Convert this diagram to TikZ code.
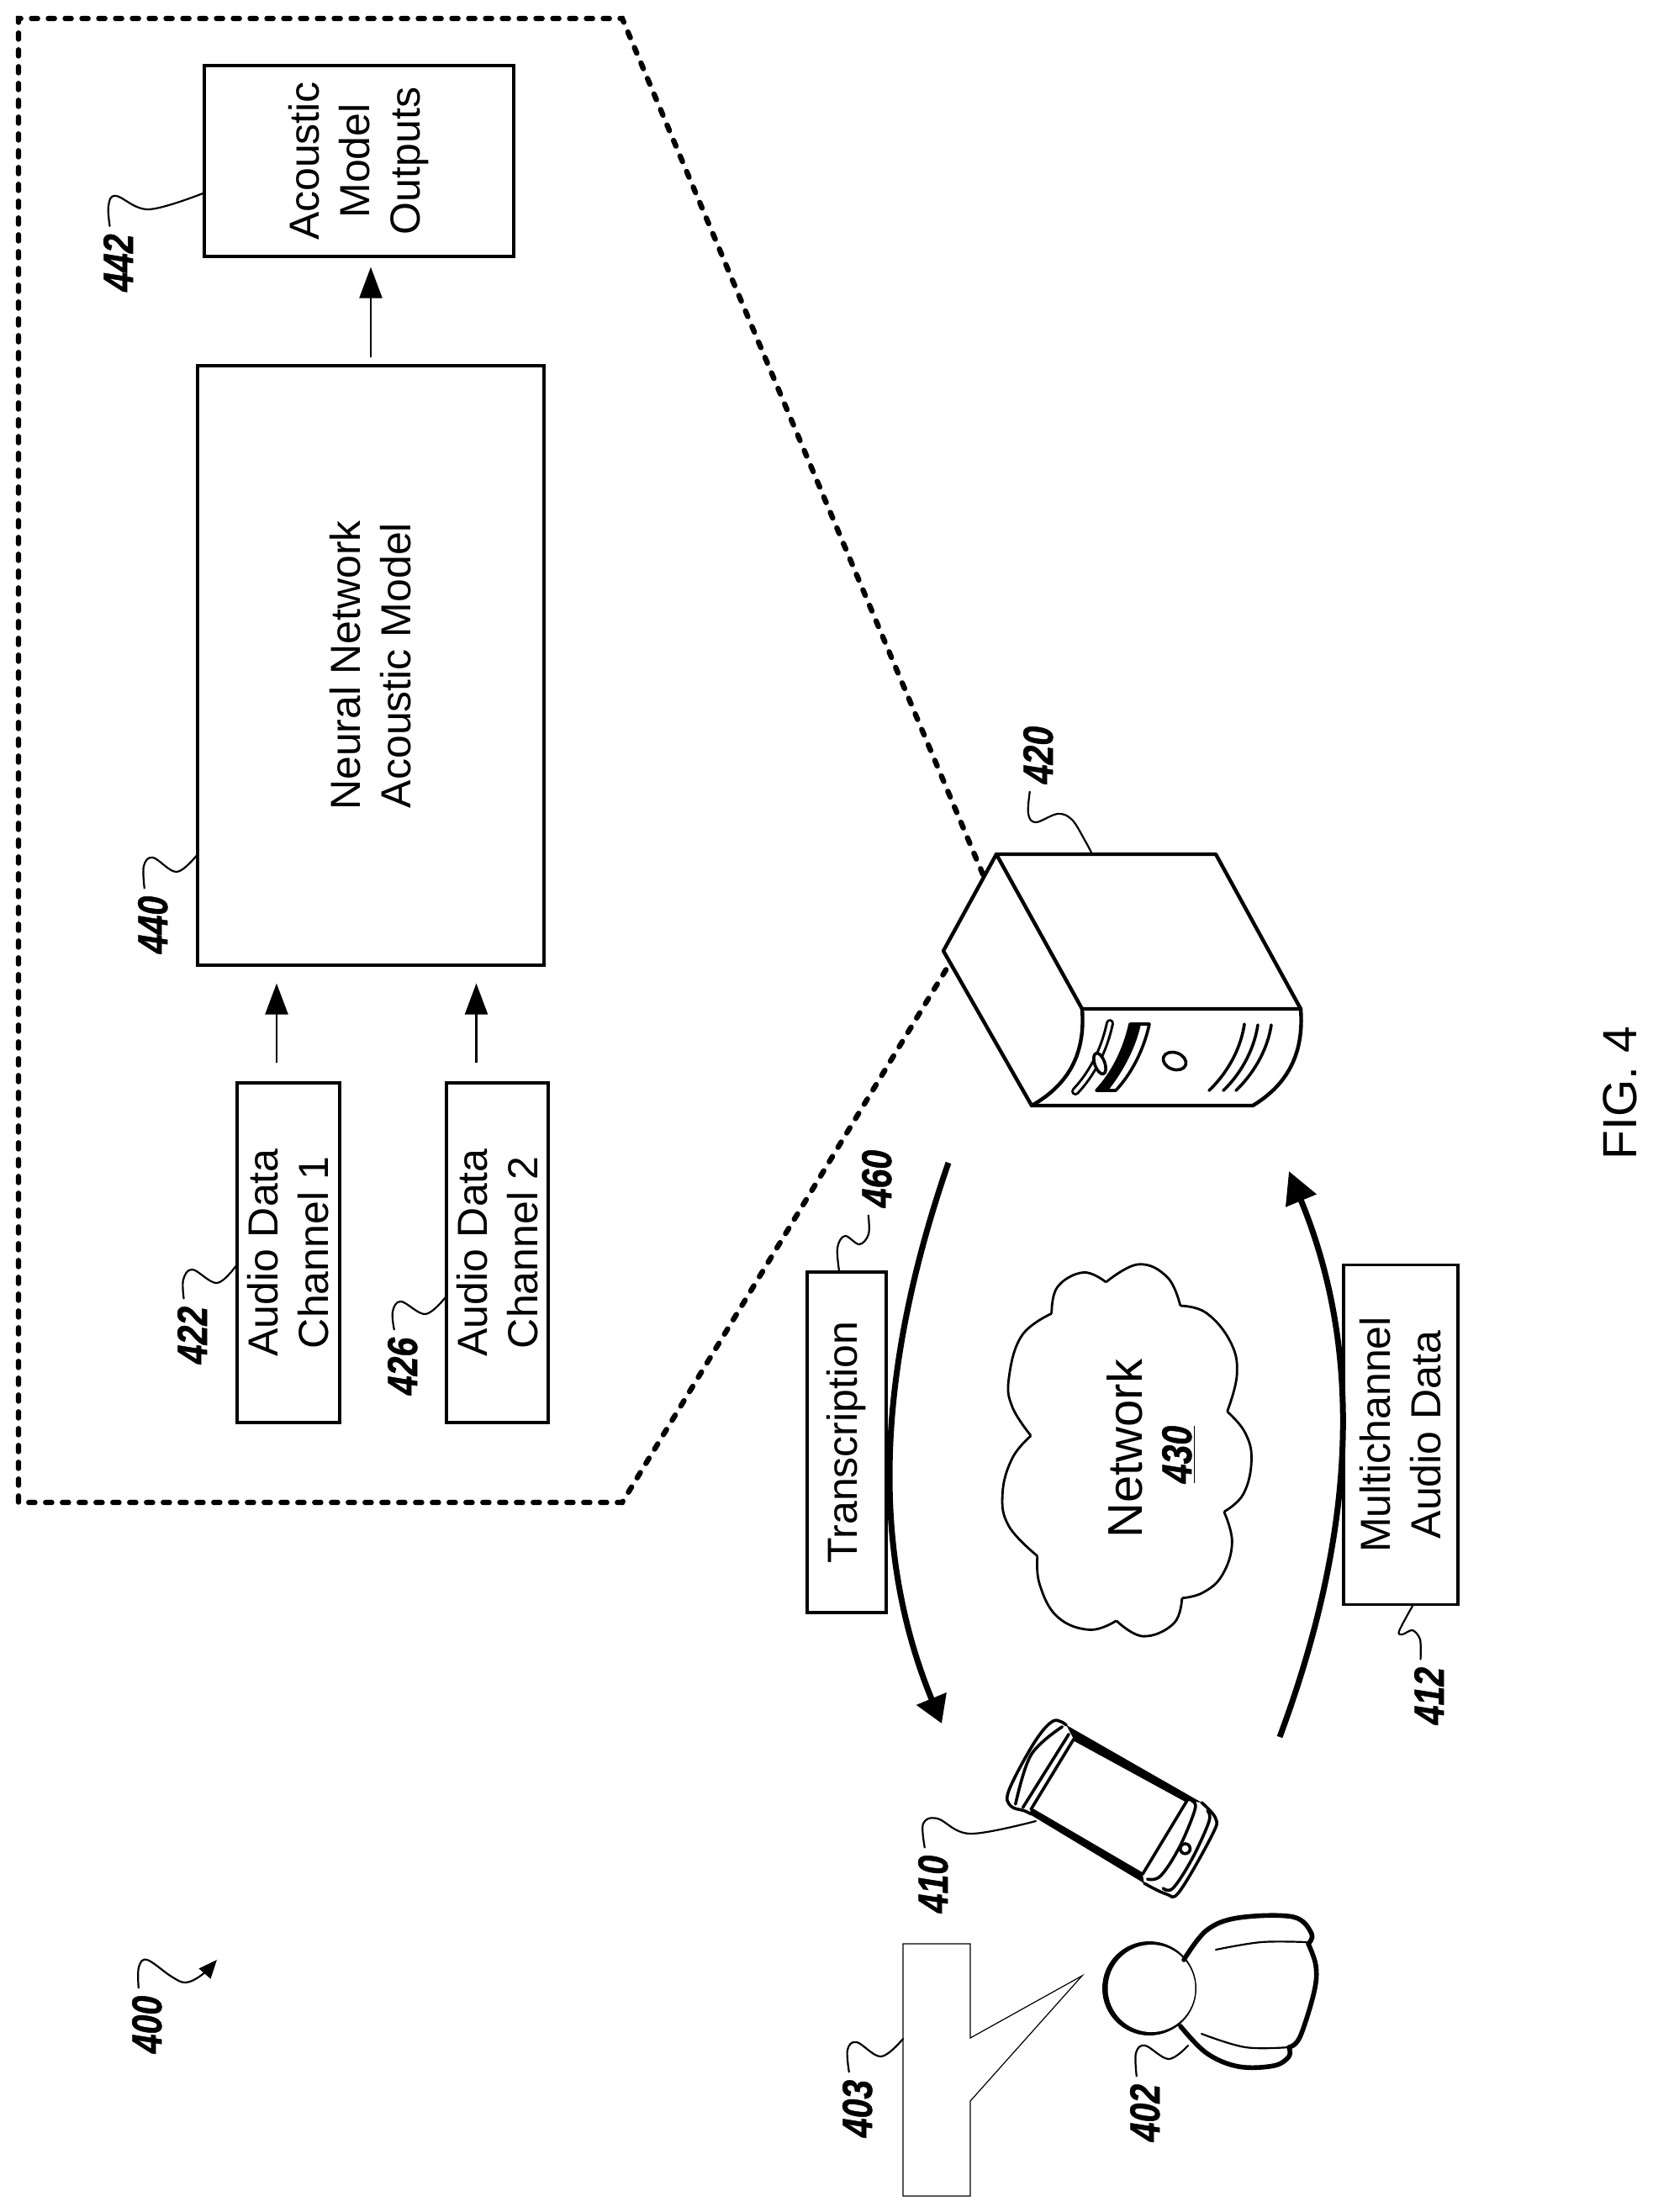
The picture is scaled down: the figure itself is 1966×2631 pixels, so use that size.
\documentclass[tikz,border=0pt]{standalone}
\usepackage{fontspec}
\usepackage{graphicx}
\setmainfont{Liberation Sans}
\newfontfamily\refnumfont{Liberation Sans}[BoldItalicFeatures={FakeBold=1.1}]
\usetikzlibrary{arrows.meta}
\newcommand{\refnum}[1]{\scalebox{.82}[1]{\refnumfont\bfseries\itshape #1}}
\tikzset{
  boxnode/.style={draw=black,line width=1.6pt,rotate=90,inner sep=0pt,align=center,fill=white,
    font=\fontsize{25}{30}\selectfont},
  refnode/.style={rotate=90,anchor=base,inner sep=0pt,font=\fontsize{25}{25}\selectfont},
  leadline/.style={line width=1.1pt,line cap=round},
  smallarrow/.style={line width=1.2pt,-{Triangle[length=18.5pt,width=13.5pt]}},
  bigarrow/.style={line width=3.5pt},
  dashline/.style={line width=3.2pt,dash pattern=on 3.6pt off 6.4pt,line cap=round},
  art/.style={line width=1.8pt,line join=round,line cap=round},
  artthick/.style={line width=2.2pt,line join=round,line cap=round},
  bodyline/.style={line width=2.8pt,line join=round,line cap=round},
}
\begin{document}
\begin{tikzpicture}[x=.5pt,y=-.5pt]
\fill[white] (0,0) rectangle (1966,2631);
\useasboundingbox (0,0) rectangle (1966,2631);

% dashed enlargement outline
\coordinate (dashA) at (1169,1040);
\coordinate (dashB) at (1129,1147);
\draw[dashline] (dashA) -- (740,22) -- (22,22) -- (22,1787) -- (740,1787) -- (dashB);

% boxes
\node[boxnode,minimum width=113.5pt,minimum height=184pt] (acoustic) at (427,191.5) {Acoustic\\Model\\Outputs};
\node[boxnode,minimum width=356.5pt,minimum height=206pt] (neural) at (441,791.5) {Neural Network\\Acoustic Model};
\node[boxnode,minimum width=202pt,minimum height=61pt] (chone) at (343,1490) {Audio Data\\Channel 1};
\node[boxnode,minimum width=202pt,minimum height=60.5pt] (chtwo) at (591.5,1490) {Audio Data\\Channel 2};
\node[boxnode,minimum width=202.5pt,minimum height=47pt] (transcr) at (1007,1715.5) {Transcription};
\node[boxnode,minimum width=202pt,minimum height=68pt] (multi) at (1666,1706.5) {Multichannel\\Audio Data};

% straight arrows
\draw[smallarrow] ([shift={(-14,-22)}]chone.east) -- ([shift={(-112,20)}]neural.west);
\draw[smallarrow] ([shift={(-25,-22)}]chtwo.east) -- ([shift={(125.5,20)}]neural.west);
\draw[smallarrow] ([shift={(0,-8)}]neural.east) -- ([shift={(14,11)}]acoustic.west);

% reference numerals
\node[refnode] (lfh) at (158,312.5) {\refnum{442}};
\node[refnode] (lff) at (199,1100) {\refnum{440}};
\node[refnode] (ltt) at (246,1588) {\refnum{422}};
\node[refnode] (lts) at (496,1625) {\refnum{426}};
\node[refnode] (lsz) at (1060,1402) {\refnum{460}};
\node[refnode] (lot) at (1717,2017) {\refnum{412}};
\node[refnode] (ltz) at (1252,898) {\refnum{420}};
\node[refnode] (loz) at (1127,2241) {\refnum{410}};
\node[refnode] (ltw) at (1379,2513) {\refnum{402}};
\node[refnode] (lth) at (1037,2508) {\refnum{403}};
\node[refnode] (lzz) at (192,2408) {\refnum{400}};

% leaders
\draw[leadline] plot[smooth,tension=.6] coordinates {([shift={(0,38.5)}]acoustic.north) (177,249) (138,233) (129,245) ([shift={(-10,-9)}]lfh.east)};
\draw[leadline] plot[smooth,tension=.6] coordinates {([shift={(0,226.5)}]neural.north) (210,1037) (182,1020) (171,1030) ([shift={(-10,-9)}]lff.east)};
\draw[leadline] plot[smooth,tension=.6] coordinates {([shift={(0,16)}]chone.north) (258,1526) (229,1510) (218,1522) ([shift={(-10,-9)}]ltt.east)};
\draw[leadline] plot[smooth,tension=.6] coordinates {([shift={(0,53.5)}]chtwo.north) (506,1563) (477,1548) (467,1560) ([shift={(-10,-9)}]lts.east)};
\draw[leadline] plot[smooth,tension=.6] coordinates {([shift={(-9,0)}]transcr.east) (996,1484) (1005,1470) (1022,1480) (1033,1468) ([shift={(-10,9)}]lsz.west)};
\draw[leadline] plot[smooth,tension=.5] coordinates {([shift={(14,0)}]multi.west) (1664,1940) (1668,1944) (1680,1939) (1689,1950) ([shift={(-10,-9)}]lot.east)};

% network cloud
\begin{scope}[shift={(1150,1450)},x=.1923pt,y=-.1923pt]
\draw[line width=1.4pt,line join=round]
  plot[smooth,tension=.7] coordinates {(430,195) (530,140) (620,180) (660,268)}
  plot[smooth,tension=.7] coordinates {(660,268) (740,290) (815,380) (835,480) (805,595)}
  plot[smooth,tension=.7] coordinates {(805,595) (860,660) (880,745) (855,850) (795,905)}
  plot[smooth,tension=.7] coordinates {(795,905) (820,1000) (790,1100) (730,1155) (665,1172)}
  plot[smooth,tension=.7] coordinates {(665,1172) (640,1250) (545,1290) (462,1242)}
  plot[smooth,tension=.7] coordinates {(462,1242) (380,1270) (280,1230) (225,1130) (218,1042)}
  plot[smooth,tension=.7] coordinates {(218,1042) (130,950) (110,850) (140,740) (198,670)}
  plot[smooth,tension=.7] coordinates {(198,670) (140,580) (130,490) (170,360) (262,292)}
  plot[smooth,tension=.7] coordinates {(262,292) (280,210) (360,165) (430,195)};
\end{scope}
\node[refnode,font=\fontsize{29}{29}\selectfont] (netname) at (1358,1723) {Network};
\node[refnode] (netnum) at (1417,1730) {\refnum{\underline{430}}};

% curved arrows
\coordinate (tailL) at (1128,1383);
\coordinate (tipL) at (1120,2050);
\coordinate (tailR) at (1522,2066);
\coordinate (tipR) at (1533,1393);
\draw[bigarrow,-{Triangle[length=16pt,width=18.5pt]}] (tailL) .. controls (1042,1632) and (1035,1844) .. (tipL);
\draw[bigarrow,-{Triangle[length=19pt,width=19pt]}] (tailR) .. controls (1614,1819) and (1621,1606) .. (tipR);

% server
\draw[artthick,fill=white] (1122,1131) -- (1185,1016) -- (1446,1016) -- (1547,1200)
   .. controls (1551,1251) and (1533,1289) .. (1490,1315) -- (1227,1315) -- cycle;
\draw[artthick] (1185,1016) -- (1287,1200) -- (1547,1200);
\draw[artthick] (1287,1200) .. controls (1291,1251) and (1273,1289) .. (1227,1315);
\draw[art] (1397,1262) ellipse [x radius=14,y radius=10,rotate=-20];
\draw[art] (1480,1218) .. controls (1475,1252) and (1456,1280) .. (1438,1297);
\draw[art] (1496,1219) .. controls (1491,1252) and (1473,1280) .. (1455,1297);
\draw[art] (1512,1219) .. controls (1507,1252) and (1488,1280) .. (1470,1297);
\draw[art] (1344,1218) -- (1367,1218) .. controls (1360,1250) and (1345,1278) .. (1327,1297) -- (1304,1297) .. controls (1322,1278) and (1337,1250) .. (1344,1218) -- cycle;
\fill (1344,1218) -- (1357,1218) .. controls (1350,1250) and (1333,1278) .. (1318,1297) -- (1304,1297) .. controls (1322,1278) and (1337,1250) .. (1344,1218) -- cycle;
\draw[line width=5pt,line cap=round] (1320,1217) .. controls (1313,1250) and (1298,1278) .. (1279,1298);
\draw[white,line width=2pt,line cap=round] (1320,1217) .. controls (1313,1250) and (1298,1278) .. (1279,1298);
\draw[art,fill=white] (1308,1265) ellipse [x radius=6,y radius=13,rotate=20];

% server leader
\draw[leadline] plot[smooth,tension=.6] coordinates {(1298,1014) (1290,999) (1275,975) (1258,968) (1232,978) (1223,968) ([shift={(-10,9)}]ltz.west)};

% phone
\begin{scope}[shift={(1200,2045)},xscale=.975,yscale=.98,shift={(-1200,-2045)}]
\fill (1270,2052) -- (1435,2146) -- (1417,2144) -- (1279,2069) -- cycle;
\fill (1227,2154) -- (1363,2233) -- (1365,2244) -- (1225,2160) -- cycle;
\draw[art] (1279,2069) -- (1417,2144) -- (1363,2233) -- (1227,2154) -- cycle;
\draw[art] plot[smooth,tension=.6] coordinates {(1270,2052) (1254,2047) (1231,2073) (1200,2131) (1202,2150) (1219,2156) (1227,2160)};
\draw[art] plot[smooth,tension=.6] coordinates {(1265,2054) (1227,2088) (1208,2148)};
\draw[art] (1273,2063) -- (1217,2152);
\draw[art] plot[smooth,tension=.6] coordinates {(1435,2146) (1452,2165) (1448,2185) (1408,2254) (1392,2257) (1365,2244)};
\draw[art] plot[smooth,tension=.6] coordinates {(1423,2144) (1427,2154) (1408,2200) (1385,2235) (1369,2239)};
\draw[art] plot[smooth,tension=.6] coordinates {(1442,2156) (1444,2169) (1423,2215) (1400,2250) (1388,2250)};
\draw[art,fill=white] (1415,2202) circle [radius=6];
\end{scope}
\draw[leadline] plot[smooth,tension=.6] coordinates {(1232,2166) (1154,2181) (1115,2163) (1098,2169) ([shift={(-10,-9)}]loz.east)};

% person
\fill (1367,2365) circle [radius=56];
\fill[white] (1369.5,2365) circle [radius=52];
\draw[bodyline] plot[smooth,tension=.6] coordinates {(1408,2331) (1435,2296) (1473,2281) (1538,2280) (1560,2300) (1556,2312)}
  plot[smooth,tension=.6] coordinates {(1556,2312) (1565,2338) (1563,2369) (1546,2423) (1533,2435)}
  plot[smooth,tension=.6] coordinates {(1533,2435) (1533,2446) (1515,2457) (1473,2458) (1435,2442) (1404,2410)};
\draw[leadline] plot[smooth,tension=.6] coordinates {(1446,2319) (1500,2310) (1554,2310)};
\draw[leadline] plot[smooth,tension=.6] coordinates {(1429,2419) (1481,2435) (1533,2435)};
\draw[leadline] plot[smooth,tension=.6] coordinates {(1413,2433) (1390,2449) (1362,2433) (1351,2442) ([shift={(-10,-9)}]ltw.east)};

% speech bubble
\draw[line width=.6pt,line join=miter] (1074,2312) -- (1154,2312) -- (1154,2424) -- (1287,2350) -- (1154,2499) -- (1154,2612) -- (1074,2612) -- cycle;
\draw[leadline] plot[smooth,tension=.6] coordinates {(1074,2425) (1048,2446) (1019,2429) (1008,2438) ([shift={(-10,-9)}]lth.east)};

% system arrow
\draw[leadline,-{Triangle[length=11pt,width=9pt]}] plot[smooth,tension=.6] coordinates {([shift={(-10,-9)}]lzz.east) (165,2340) (175,2331) (204,2351) (221,2358) (240,2349) (258,2331)};

% figure caption
\node[refnode,font=\fontsize{28.5}{28.5}\selectfont] (figcap) at (1946,1300) {FIG. 4};
\end{tikzpicture}
\end{document}
